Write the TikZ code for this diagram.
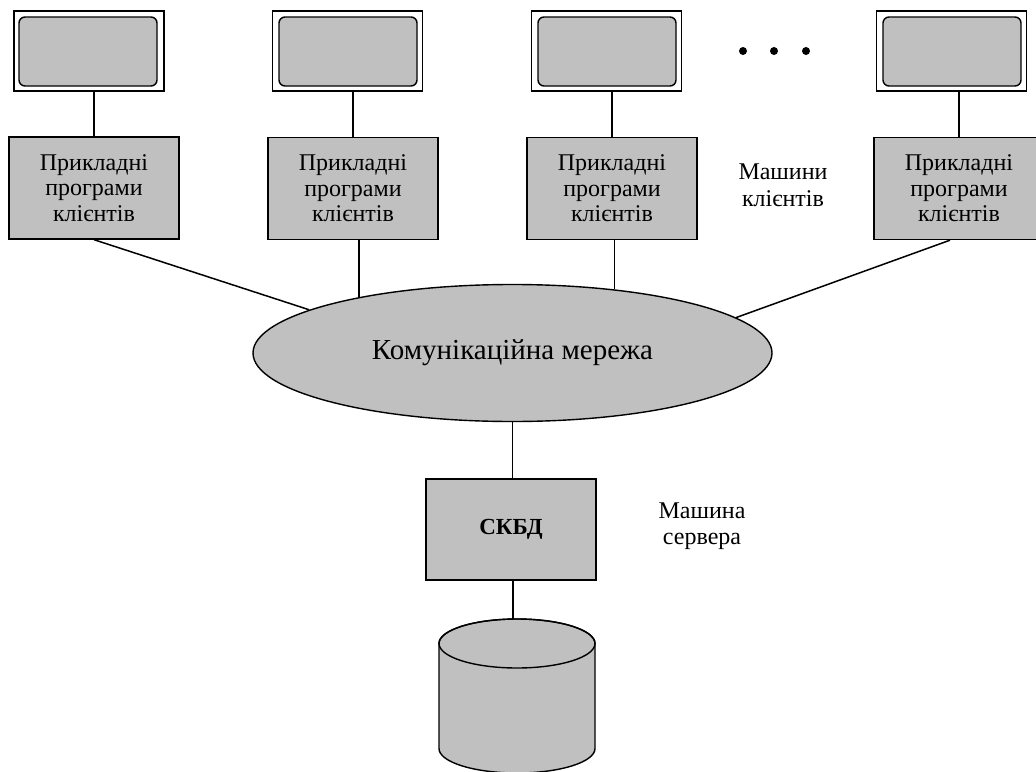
\documentclass[tikz,border=0pt]{standalone}
\usepackage{fontspec}
\setmainfont{Liberation Serif}
\usetikzlibrary{shapes.geometric}

\definecolor{panel}{HTML}{C0C0C0}

\tikzset{
  wire/.style={draw=black, line width=1.5pt},
  monframe/.style={draw=black, fill=white, line width=1.4pt, minimum width=150pt, minimum height=80pt, inner sep=0pt},
  monscreen/.style={draw=black, fill=panel, line width=1.4pt, rounded corners=6pt, minimum width=138pt, minimum height=69pt, inner sep=0pt},
  appbox/.style={draw=black, fill=panel, line width=1.4pt, minimum width=170pt, minimum height=102pt, inner sep=0pt, align=center,
    font=\fontsize{24}{25.5}\selectfont},
  sidelabel/.style={align=center, font=\fontsize{24}{27}\selectfont},
  dotmark/.style={fill=black, circle, inner sep=0pt, minimum size=8pt}
}

\begin{document}
\begin{tikzpicture}[x=1pt, y=1pt]
  \useasboundingbox (0,0) rectangle (1036,-771);
  \clip (0,0) rectangle (1036,-771);

  % client monitors
  \node[monframe]  (mon1) at (89,-51) {};
  \node[monscreen] (scr1) at (88,-51.5) {};
  \node[monframe]  (mon2) at (347.5,-51) {};
  \node[monscreen] (scr2) at (348,-51.5) {};
  \node[monframe]  (mon3) at (606.5,-51) {};
  \node[monscreen] (scr3) at (607,-51.5) {};
  \node[monframe]  (mon4) at (951.5,-51) {};
  \node[monscreen] (scr4) at (952,-51.5) {};

  % client application boxes
  \node[appbox] (app1) at (94,-188)  {Прикладні\\програми\\клієнтів};
  \node[appbox] (app2) at (353,-188.5) {Прикладні\\програми\\клієнтів};
  \node[appbox] (app3) at (612,-188.5) {Прикладні\\програми\\клієнтів};
  \node[appbox] (app4) at (959,-188.5) {Прикладні\\програми\\клієнтів};

  % ellipsis between clients
  \node[dotmark] (d1) at (743,-51) {};
  \node[dotmark] (d2) at (774,-51) {};
  \node[dotmark] (d3) at (806,-51) {};

  \node[sidelabel] (clients) at (783,-185) {Машини\\клієнтів};

  % network
  \node[ellipse, draw=black, fill=panel, line width=1.4pt, minimum width=519pt, minimum height=137pt, inner sep=0pt,
        font=\fontsize{29}{33}\selectfont] (net) at (512.5,-353) {Комунікаційна мережа};

  % server
  \node[draw=black, fill=panel, line width=1.4pt, minimum width=170pt, minimum height=101pt, inner sep=0pt,
        font=\fontsize{23}{26}\selectfont\bfseries] (dbms) at (511,-529.5) {СКБД};
  \node[sidelabel, font=\fontsize{24}{26}\selectfont] (server) at (702,-526) {Машина\\сервера};

  % database cylinder
  \filldraw[fill=panel, line width=1.4pt]
    (439,-643.5) -- (439,-748.5) arc (180:360:78 and 24.5) -- (595,-643.5) arc (0:180:78 and 24.5) -- cycle;
  \draw[line width=1.4pt] (517,-643.5) ellipse (78 and 24.5);
  \coordinate (dbtop) at (513,-619.2);

  % connectors
  \foreach \i in {1,...,4} {
    \draw[wire] (mon\i.south -| app\i.north) -- (app\i.north);
  }
  \draw[wire] (app1.south) -- (net.168.8);
  \draw[wire] (app2.south -| net.160.8) -- (net.160.8);
  \draw[wire] (app3.south -| net.32.7) -- (net.32.7);
  \draw[wire] ([xshift=-9pt]app4.south) -- (net.9);
  \draw[wire] (net.south) -- (net.south |- dbms.north);
  \draw[wire] (dbms.south -| dbtop) -- (dbtop);
\end{tikzpicture}
\end{document}
